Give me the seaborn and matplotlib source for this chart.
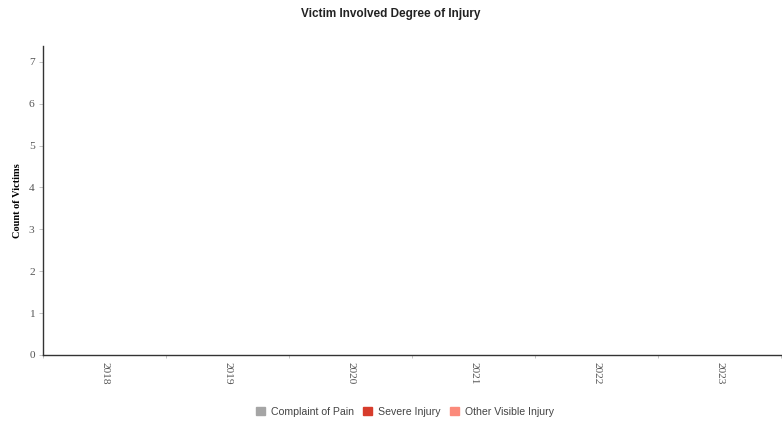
import matplotlib
matplotlib.use('Agg')
import matplotlib.pyplot as plt
import matplotlib.patches as mpatches
import pandas as pd
import seaborn as sns


YEARS = ['2018', '2019', '2020', '2021', '2022', '2023']
SERIES = ['Complaint of Pain', 'Severe Injury', 'Other Visible Injury']
COMPLAINT_OF_PAIN = [0, 0, 0, 0, 0, 0]
SEVERE_INJURY = [0, 0, 0, 0, 0, 0]
OTHER_VISIBLE_INJURY = [0, 0, 0, 0, 0, 0]
COLORS = ['#a5a5a5', '#d73c2c', '#fb8a7b']


def build_frame():
    rows = []
    for name, vals in zip(SERIES, [COMPLAINT_OF_PAIN, SEVERE_INJURY, OTHER_VISIBLE_INJURY]):
        for year, v in zip(YEARS, vals):
            rows.append({'year': year, 'injury': name, 'count': v})
    return pd.DataFrame(rows)


def main():
    sns.set_style('white')
    df = build_frame()

    fig = plt.figure(figsize=(7.82, 4.22), dpi=100)
    ax = fig.add_axes([0.055, 0.159, 0.944, 0.732])

    sns.barplot(data=df, x='year', y='count', hue='injury', hue_order=SERIES,
                palette=COLORS, order=YEARS, linewidth=0, legend=False, ax=ax)

    ax.set_xlim(-0.5, len(YEARS) - 0.5)
    ax.set_ylim(0, 7.38)
    ax.set_yticks(range(0, 8))

    serif = 'Liberation Serif'
    ax.set_xticks(range(len(YEARS)))
    ax.set_xticklabels(YEARS, rotation=-90, fontfamily=serif, fontsize=8.2, color='#555555')
    ax.set_xticks([i - 0.5 for i in range(len(YEARS) + 1)], minor=True)
    ax.tick_params(axis='x', which='major', length=0, pad=5)
    ax.tick_params(axis='x', which='minor', length=2, color='#bbbbbb', width=0.6, direction='out')
    ax.tick_params(axis='x', which='minor', bottom=True)
    ax.tick_params(axis='y', length=3, color='#bbbbbb', width=0.6, pad=3, left=True)
    for lab in ax.get_yticklabels():
        lab.set_fontfamily(serif)
        lab.set_fontsize(8.2)
        lab.set_color('#555555')

    ax.set_xlabel('')
    ax.set_ylabel('Count of Victims', fontfamily=serif, fontweight='bold', fontsize=7.5,
                  color='black')
    ax.yaxis.set_label_coords(-0.028, 0.5)

    for s in ['top', 'right']:
        ax.spines[s].set_visible(False)
    for s in ['left', 'bottom']:
        ax.spines[s].set_color('#333333')
        ax.spines[s].set_linewidth(1.0)

    fig.text(0.5, 0.968, 'Victim Involved Degree of Injury', ha='center', va='center',
             fontfamily='Liberation Sans', fontweight='bold', fontsize=8.5, color='#222222')

    handles = [mpatches.Patch(color=c, label=n) for c, n in zip(COLORS, SERIES)]
    fig.legend(handles=handles, loc='center', bbox_to_anchor=(0.518, 0.024), ncol=3,
               frameon=False, handlelength=0.8, handleheight=0.8, handletextpad=0.6,
               columnspacing=0.9, prop={'family': 'Liberation Sans', 'size': 7.6}, labelcolor='#444444')

    fig.savefig('out.png', dpi=100)
    plt.close(fig)


if __name__ == '__main__':
    main()
